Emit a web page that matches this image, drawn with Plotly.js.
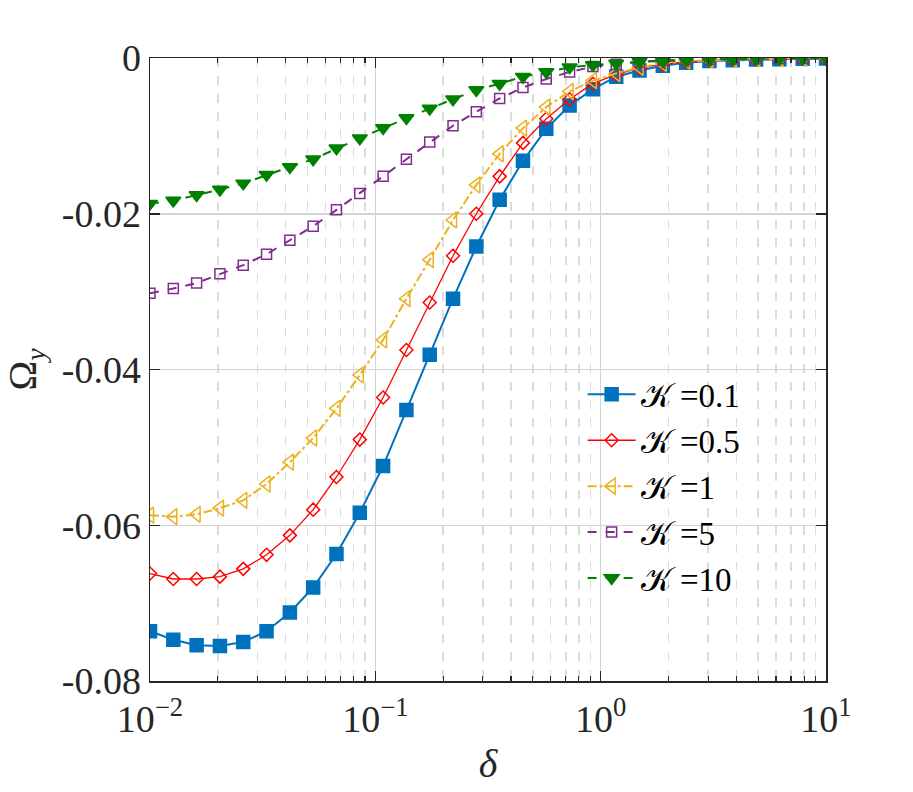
<!DOCTYPE html>
<html>
<head>
<meta charset="utf-8">
<script src="https://cdn.plot.ly/plotly-3.0.1.min.js"></script>
<style>
  html, body { margin: 0; padding: 0; background: #fff; }
  #graph { width: 913px; height: 792px; }
</style>
</head>
<body>
<div id="graph"></div>
<script>
// delta values (30 log-spaced points, 1e-2 .. 1e1)
const delta = [0.01, 0.01269, 0.016103, 0.020434, 0.025929, 0.032903, 0.041753, 0.052983,
  0.067234, 0.085317, 0.10826, 0.13738, 0.17433, 0.22122, 0.28072, 0.35622, 0.45204,
  0.57362, 0.7279, 0.92367, 1.1721, 1.4874, 1.8874, 2.395, 3.0392, 3.8566, 4.8939,
  6.2102, 7.8805, 10.0];

// Omega_y for each K
const omegaK01 = [-0.0736, -0.0747, -0.0754, -0.0755, -0.0750, -0.0736, -0.0712, -0.0680,
  -0.0637, -0.0584, -0.0524, -0.0452, -0.0381, -0.0309, -0.0242, -0.0182, -0.0132, -0.0091,
  -0.0061, -0.0040, -0.0024, -0.0016, -0.0010, -0.0006, -0.0004, -0.0003, -0.0002, -0.00015,
  -0.0001, -0.00007];
const omegaK05 = [-0.0662, -0.0669, -0.0669, -0.0666, -0.0656, -0.0638, -0.0613, -0.0580,
  -0.0538, -0.0490, -0.0436, -0.0375, -0.0314, -0.0254, -0.0200, -0.0152, -0.0109, -0.0078,
  -0.0053, -0.0033, -0.0021, -0.0013, -0.0008, -0.0005, -0.0003, -0.0002, -0.00015, -0.0001,
  -0.00007, -0.00005];
const omegaK1 = [-0.0587, -0.0589, -0.0586, -0.0578, -0.0568, -0.0547, -0.0519, -0.0488,
  -0.0450, -0.0407, -0.0362, -0.0309, -0.0259, -0.0208, -0.0163, -0.0123, -0.0090, -0.0063,
  -0.0043, -0.0029, -0.0020, -0.0012, -0.0007, -0.0004, -0.0003, -0.0002, -0.00012, -0.00008,
  -0.00005, -0.00003];
const omegaK5 = [-0.0302, -0.0296, -0.0289, -0.0277, -0.0266, -0.0252, -0.0234, -0.0216,
  -0.0195, -0.0174, -0.0152, -0.0130, -0.0108, -0.0087, -0.0069, -0.0052, -0.0038, -0.0027,
  -0.0018, -0.0011, -0.0008, -0.0005, -0.0003, -0.0002, -0.00015, -0.0001, -0.00007, -0.00005,
  -0.00003, -0.00002];
const omegaK10 = [-0.0187, -0.0183, -0.0176, -0.0169, -0.0161, -0.0150, -0.0140, -0.0130,
  -0.0116, -0.0103, -0.0090, -0.0077, -0.0065, -0.0053, -0.0041, -0.0033, -0.0024, -0.0018,
  -0.0012, -0.0009, -0.0007, -0.0005, -0.0004, -0.0003, -0.0002, -0.00015, -0.0001, -0.00008,
  -0.00005, -0.00003];

const seriesNames = ["\uD835\uDCA6 =0.1", "\uD835\uDCA6 =0.5", "\uD835\uDCA6 =1", "\uD835\uDCA6 =5", "\uD835\uDCA6 =10"];

const xTickVals = [0.01, 0.1, 1, 10];
const xTickText = ["10<sup>−2</sup>", "10<sup>−1</sup>", "10<sup>0</sup>", "10<sup>1</sup>"];
const yTickVals = [-0.08, -0.06, -0.04, -0.02, 0];
const yTickText = ["-0.08", "-0.06", "-0.04", "-0.02", "0"];

const serif = "Liberation Serif, Times New Roman, serif";

function trace(y, name, color, width, dash, symbol, size) {
  return {
    x: delta, y: y, name: name, legendgroup: name,
    type: "scatter", mode: "lines+markers",
    line: { color: color, width: width, dash: dash },
    marker: { symbol: symbol, size: size, color: color, line: { color: color, width: 1.5 } }
  };
}

const traces = [
  trace(omegaK01, seriesNames[0], "#0072BD", 2, "solid", "square", 13),
  trace(omegaK05, seriesNames[1], "#FF0000", 1.3, "solid", "diamond-open", 10),
  trace(omegaK1, seriesNames[2], "#EDB120", 2, "dashdot", "triangle-left-open", 14),
  trace(omegaK5, seriesNames[3], "#7E2F8E", 2, "dash", "square-open", 10),
  trace(omegaK10, seriesNames[4], "#008000", 2, "dash", "triangle-down", 13)
];

const axisCommon = {
  showline: true, linecolor: "#262626", linewidth: 1.5, mirror: "ticks",
  ticks: "inside", ticklen: 10, tickwidth: 1.5, tickcolor: "#262626",
  showgrid: true, gridcolor: "#d4d4d4", gridwidth: 1.5,
  zeroline: false,
  tickfont: { family: serif, size: 38, color: "#262626" }
};

const layout = {
  width: 913, height: 792,
  paper_bgcolor: "#fff", plot_bgcolor: "#fff",
  margin: { l: 150, r: 87, t: 58, b: 111 },
  showlegend: true,
  xaxis: Object.assign({}, axisCommon, {
    type: "log", range: [-2, 1],
    tickmode: "array", tickvals: xTickVals, ticktext: xTickText,
    ticklabelstandoff: 4,
    minor: { dtick: "D1", ticks: "inside", ticklen: 5, tickcolor: "#262626", tickwidth: 1.2,
             showgrid: true, gridcolor: "#dcdcdc", gridwidth: 1.5, griddash: "dash" },
    title: { text: "<i>δ</i>", font: { family: serif, size: 40, color: "#262626" }, standoff: 10 }
  }),
  yaxis: Object.assign({}, axisCommon, {
    range: [-0.08, 0],
    tickmode: "array", tickvals: yTickVals, ticktext: yTickText,
    title: { text: "Ω<sub><i>y</i></sub>", font: { family: serif, size: 40, color: "#262626" }, standoff: 12 }
  }),
  legend: {
    x: 0.64, y: 0.505, xanchor: "left", yanchor: "top",
    bgcolor: "rgba(0,0,0,0)", borderwidth: 0,
    font: { family: serif, size: 33, color: "#000" },
    tracegroupgap: 0, itemwidth: 48
  }
};

Plotly.newPlot("graph", traces, layout, { displayModeBar: false, staticPlot: true });
</script>
</body>
</html>
